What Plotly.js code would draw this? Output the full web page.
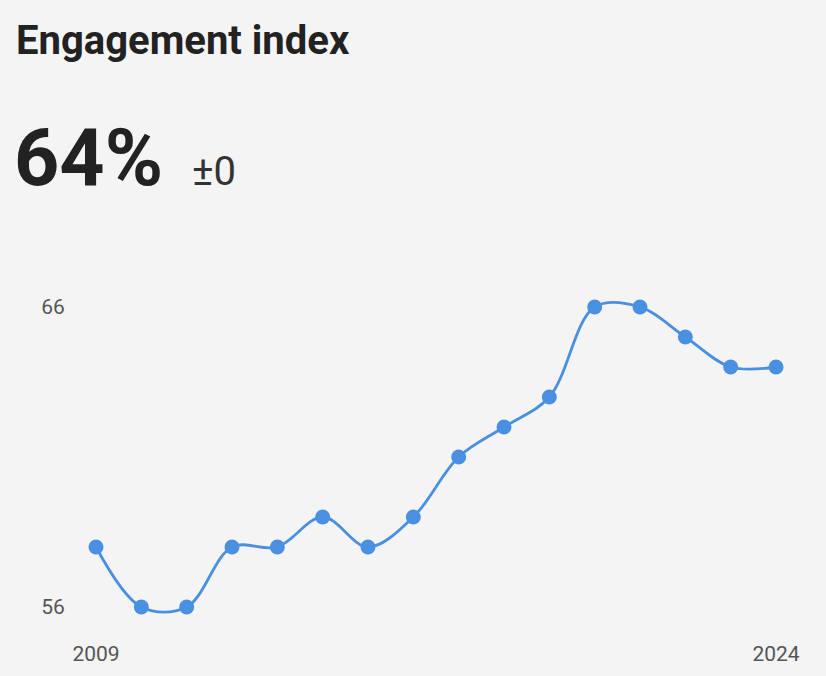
<!DOCTYPE html>
<html>
<head>
<meta charset="utf-8">
<script src="https://cdn.plot.ly/plotly-3.0.1.min.js"></script>
<style>
html,body{margin:0;padding:0;background:#f4f4f4;}
#chart{width:826px;height:676px;}
</style>
</head>
<body>
<div id="chart"></div>
<script>
const years = [2009,2010,2011,2012,2013,2014,2015,2016,2017,2018,2019,2020,2021,2022,2023,2024];
const values = [58,56,56,58,58,59,58,59,61,62,63,66,66,65,64,64];
const xTickVals = [2009, 2024];
const xTickText = ["2009", "2024"];
const yTickVals = [56, 66];
const yTickText = ["56", "66"];
const titleText = "Engagement index";
const headlineValue = "64%";
const changeText = "±0";

const trace = {
  x: years,
  y: values,
  type: 'scatter',
  mode: 'lines+markers',
  line: {shape: 'spline', smoothing: 1, color: '#4a90e2', width: 2.8},
  marker: {size: 15, color: '#4a90e2'},
  hoverinfo: 'x+y'
};

const layout = {
  width: 826, height: 676,
  paper_bgcolor: '#f4f4f4', plot_bgcolor: '#f4f4f4',
  margin: {l: 80, r: 30, t: 290, b: 51},
  showlegend: false,
  font: {family: 'Roboto, "Noto Sans", sans-serif', color: '#555'},
  xaxis: {
    range: [2008.647, 2024.441],
    tickvals: xTickVals, ticktext: xTickText,
    showgrid: false, zeroline: false, showline: false,
    ticks: 'outside', ticklen: 10, tickcolor: 'rgba(0,0,0,0)',
    tickfont: {size: 21, color: '#555'}
  },
  yaxis: {
    range: [55.4, 66.567],
    tickvals: yTickVals, ticktext: yTickText,
    showgrid: false, zeroline: false, showline: false,
    ticks: 'outside', ticklen: 10, tickcolor: 'rgba(0,0,0,0)',
    tickfont: {size: 21, color: '#555'}
  },
  annotations: [
    {text: '<b>' + titleText + '</b>', xref: 'paper', yref: 'paper', x: 0, y: 1,
     xshift: -66, yshift: 224, xanchor: 'left', yanchor: 'bottom', showarrow: false,
     font: {size: 40, color: '#222', family: 'Roboto, sans-serif'}},
    {text: '<b>' + headlineValue + '</b>', xref: 'paper', yref: 'paper', x: 0, y: 1,
     xshift: -68, yshift: 84, xanchor: 'left', yanchor: 'bottom', showarrow: false,
     font: {size: 79, color: '#222', family: 'Roboto, sans-serif'}},
    {text: changeText, xref: 'paper', yref: 'paper', x: 0, y: 1,
     xshift: 110, yshift: 93, xanchor: 'left', yanchor: 'bottom', showarrow: false,
     font: {size: 40, color: '#333', family: 'Roboto, sans-serif'}}
  ]
};

Plotly.newPlot('chart', [trace], layout, {displayModeBar: false, staticPlot: true});
</script>
</body>
</html>
